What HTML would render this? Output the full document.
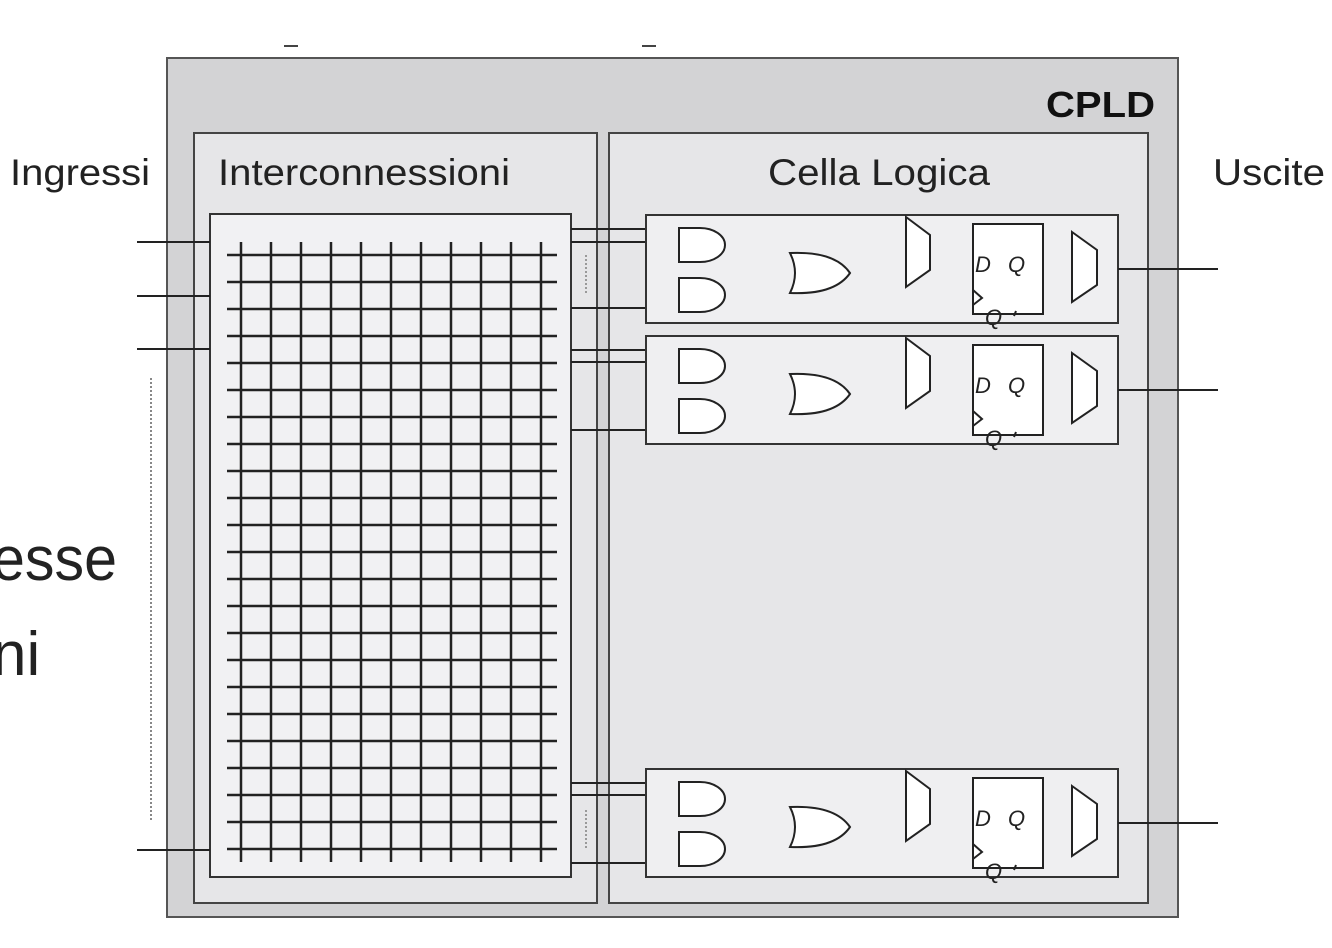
<!DOCTYPE html>
<html><head><meta charset="utf-8"><style>
html,body{margin:0;padding:0;background:#fff;}
svg{display:block;}
text{font-family:"Liberation Sans",sans-serif;}
</style></head><body>
<svg width="1332" height="948" viewBox="0 0 1332 948" xmlns="http://www.w3.org/2000/svg">
<defs>
<g id="cell">
  <rect x="646" y="0" width="472" height="108" fill="#efeff1" stroke="#333" stroke-width="2"/>
  <path d="M679,13 L700,13 A25,17 0 0 1 700,47 L679,47 Z" fill="#fff" stroke="#222" stroke-width="2"/>
  <path d="M679,63 L700,63 A25,17 0 0 1 700,97 L679,97 Z" fill="#fff" stroke="#222" stroke-width="2"/>
  <path d="M790,38 Q800,58 790,78 Q835,80 850,58 Q835,36 790,38 Z" fill="#fff" stroke="#222" stroke-width="2"/>
  <path d="M906,2 L930,20 L930,55 L906,72 Z" fill="#fff" stroke="#222" stroke-width="2"/>
  <rect x="973" y="9" width="70" height="90" fill="#fff" stroke="#222" stroke-width="2"/>
  <text x="975" y="57" font-size="22" font-style="italic" fill="#222">D</text>
  <text x="1008" y="57" font-size="22" font-style="italic" fill="#222">Q</text>
  <path d="M973,75 L982,83 L973,90" fill="none" stroke="#222" stroke-width="2"/>
  <text x="985" y="110" font-size="22" font-style="italic" fill="#222">Q</text>
  <path d="M1014,101 L1016,96" stroke="#222" stroke-width="2"/>
  <path d="M1072,17 L1097,35 L1097,70 L1072,87 Z" fill="#fff" stroke="#222" stroke-width="2"/>
</g>
</defs>
<rect x="167" y="58" width="1011" height="859" fill="#d3d3d5" stroke="#555" stroke-width="2"/>
<text x="1046" y="117" font-size="36" font-weight="bold" textLength="109" lengthAdjust="spacingAndGlyphs" fill="#111">CPLD</text>
<rect x="194" y="133" width="403" height="770" fill="#e6e6e8" stroke="#444" stroke-width="2"/>
<text x="218" y="185" font-size="37" textLength="292" lengthAdjust="spacingAndGlyphs" fill="#222">Interconnessioni</text>
<rect x="609" y="133" width="539" height="770" fill="#e6e6e8" stroke="#444" stroke-width="2"/>
<text x="768" y="185" font-size="37" textLength="222" lengthAdjust="spacingAndGlyphs" fill="#222">Cella Logica</text>
<rect x="210" y="214" width="361" height="663" fill="#f1f1f3" stroke="#333" stroke-width="2"/>
<g stroke="#222" stroke-width="2.5">
<line x1="241" y1="242" x2="241" y2="862"/><line x1="271" y1="242" x2="271" y2="862"/>
<line x1="301" y1="242" x2="301" y2="862"/><line x1="331" y1="242" x2="331" y2="862"/>
<line x1="361" y1="242" x2="361" y2="862"/><line x1="391" y1="242" x2="391" y2="862"/>
<line x1="421" y1="242" x2="421" y2="862"/><line x1="451" y1="242" x2="451" y2="862"/>
<line x1="481" y1="242" x2="481" y2="862"/><line x1="511" y1="242" x2="511" y2="862"/>
<line x1="541" y1="242" x2="541" y2="862"/>
</g>
<g stroke="#222" stroke-width="2.5">
<line x1="227" y1="255" x2="557" y2="255"/><line x1="227" y1="282" x2="557" y2="282"/>
<line x1="227" y1="309" x2="557" y2="309"/><line x1="227" y1="336" x2="557" y2="336"/>
<line x1="227" y1="363" x2="557" y2="363"/><line x1="227" y1="390" x2="557" y2="390"/>
<line x1="227" y1="417" x2="557" y2="417"/><line x1="227" y1="444" x2="557" y2="444"/>
<line x1="227" y1="471" x2="557" y2="471"/><line x1="227" y1="498" x2="557" y2="498"/>
<line x1="227" y1="525" x2="557" y2="525"/><line x1="227" y1="552" x2="557" y2="552"/>
<line x1="227" y1="579" x2="557" y2="579"/><line x1="227" y1="606" x2="557" y2="606"/>
<line x1="227" y1="633" x2="557" y2="633"/><line x1="227" y1="660" x2="557" y2="660"/>
<line x1="227" y1="687" x2="557" y2="687"/><line x1="227" y1="714" x2="557" y2="714"/>
<line x1="227" y1="741" x2="557" y2="741"/><line x1="227" y1="768" x2="557" y2="768"/>
<line x1="227" y1="795" x2="557" y2="795"/><line x1="227" y1="822" x2="557" y2="822"/>
<line x1="227" y1="849" x2="557" y2="849"/>
</g>
<g stroke="#222" stroke-width="2">
<line x1="137" y1="242" x2="210" y2="242"/><line x1="137" y1="296" x2="210" y2="296"/>
<line x1="137" y1="349" x2="210" y2="349"/><line x1="137" y1="850" x2="210" y2="850"/>
</g>
<line x1="151" y1="378" x2="151" y2="820" stroke="#888" stroke-width="2" stroke-dasharray="2,2"/>
<g stroke="#222" stroke-width="2">
<line x1="571" y1="229" x2="646" y2="229"/><line x1="571" y1="242" x2="646" y2="242"/><line x1="571" y1="308" x2="646" y2="308"/>
<line x1="571" y1="350" x2="646" y2="350"/><line x1="571" y1="362" x2="646" y2="362"/><line x1="571" y1="430" x2="646" y2="430"/>
<line x1="571" y1="783" x2="646" y2="783"/><line x1="571" y1="795" x2="646" y2="795"/><line x1="571" y1="863" x2="646" y2="863"/>
</g>
<g stroke="#999" stroke-width="2" stroke-dasharray="2,2">
<line x1="586" y1="255" x2="586" y2="295"/><line x1="586" y1="810" x2="586" y2="850"/>
</g>
<use href="#cell" transform="translate(0,215)"/>
<use href="#cell" transform="translate(0,336)"/>
<use href="#cell" transform="translate(0,769)"/>
<g stroke="#222" stroke-width="2">
<line x1="1118" y1="269" x2="1218" y2="269"/><line x1="1118" y1="390" x2="1218" y2="390"/><line x1="1118" y1="823" x2="1218" y2="823"/>
</g>
<text x="10" y="185" font-size="37" textLength="140" lengthAdjust="spacingAndGlyphs" fill="#222">Ingressi</text>
<text x="1213" y="185" font-size="37" textLength="112" lengthAdjust="spacingAndGlyphs" fill="#222">Uscite</text>
<text x="-8" y="580" font-size="62" textLength="125" lengthAdjust="spacingAndGlyphs" fill="#222">esse</text>
<text x="-8" y="675" font-size="62" fill="#222">ni</text>
<line x1="284" y1="46" x2="298" y2="46" stroke="#444" stroke-width="2"/>
<line x1="642" y1="46" x2="656" y2="46" stroke="#444" stroke-width="2"/>
</svg>
</body></html>
